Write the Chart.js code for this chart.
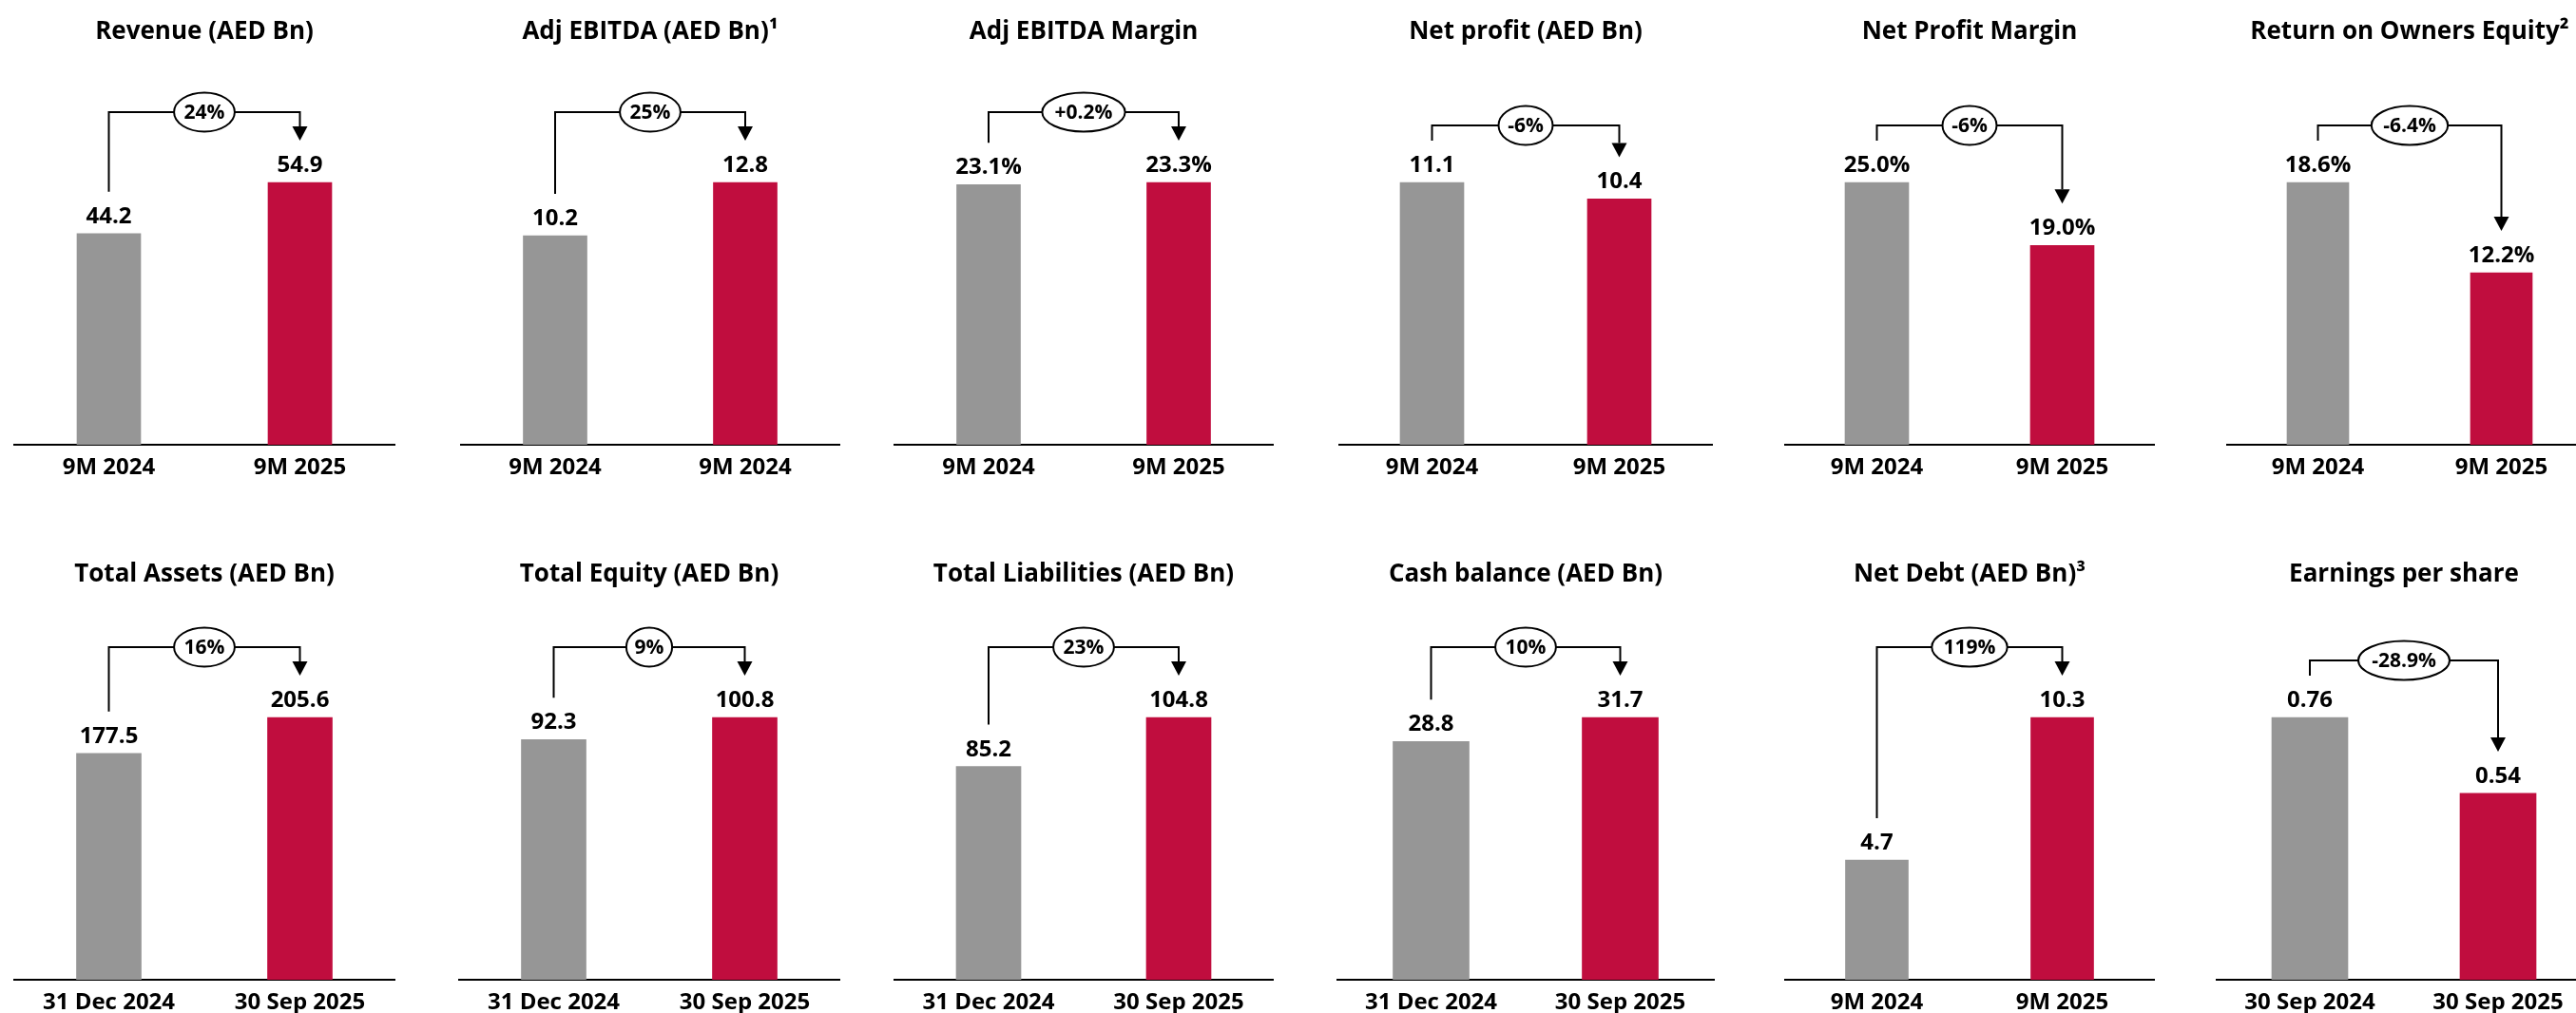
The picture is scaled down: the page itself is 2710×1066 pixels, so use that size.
<!DOCTYPE html>
<html>
<head>
<meta charset="utf-8">
<script src="https://cdn.jsdelivr.net/npm/chart.js@4.4.1/dist/chart.umd.min.js"></script>
<style>
  html, body { margin: 0; padding: 0; background: #fff; }
  body { width: 2710px; height: 1066px; position: relative; overflow: hidden; }
  .panel { position: absolute; }
</style>
</head>
<body>
<script>
// chart values, one entry per panel (row 1 then row 2)
const titles = [
  'Revenue (AED Bn)', 'Adj EBITDA (AED Bn)\u00B9', 'Adj EBITDA Margin',
  'Net profit (AED Bn)', 'Net Profit Margin', 'Return on Owners Equity\u00B2',
  'Total Assets (AED Bn)', 'Total Equity (AED Bn)', 'Total Liabilities (AED Bn)',
  'Cash balance (AED Bn)', 'Net Debt (AED Bn)\u00B3', 'Earnings per share'
];
const periods = [
  ['9M 2024', '9M 2025'], ['9M 2024', '9M 2024'], ['9M 2024', '9M 2025'],
  ['9M 2024', '9M 2025'], ['9M 2024', '9M 2025'], ['9M 2024', '9M 2025'],
  ['31 Dec 2024', '30 Sep 2025'], ['31 Dec 2024', '30 Sep 2025'], ['31 Dec 2024', '30 Sep 2025'],
  ['31 Dec 2024', '30 Sep 2025'], ['9M 2024', '9M 2025'], ['30 Sep 2024', '30 Sep 2025']
];
const priorValues = [44.2, 10.2, 23.1, 11.1, 25.0, 18.6, 177.5, 92.3, 85.2, 28.8, 4.7, 0.76];
const currentValues = [54.9, 12.8, 23.3, 10.4, 19.0, 12.2, 205.6, 100.8, 104.8, 31.7, 10.3, 0.54];
const changeLabels = ['24%', '25%', '+0.2%', '-6%', '-6%', '-6.4%', '16%', '9%', '23%', '10%', '119%', '-28.9%'];
const valueSuffix = ['', '', '%', '', '%', '%', '', '', '', '', '', ''];
const valueDecimals = [1, 1, 1, 1, 1, 1, 1, 1, 1, 1, 1, 2];

// page layout
const panelLeft = [14, 484, 940, 1408, 1877, 2342, 14, 482, 940, 1406, 1877, 2331];
const panelWidth = [402, 400, 400, 394, 390, 386, 402, 402, 400, 398, 390, 396];
const barWidth = [67, 67, 67, 67, 67, 65, 68, 68, 68, 80, 66, 80];
const rowTop = [0, 563];
const titlePadTop = [18, 26];
const canvasHeight = 528;
const plotHeight = 378;   // chart area height (title block 90, x axis 60)
const tallestBar = 276;   // pixel height of the larger bar in every panel

const GREY = '#969696';
const RED = '#C00D3E';
const FONT = '"Open Sans", "DejaVu Sans", sans-serif';

const bracketPlugin = {
  id: 'changeBracket',
  afterDatasetsDraw(chart, args, opts) {
    const ctx = chart.ctx;
    const bars = chart.getDatasetMeta(0).data;
    const vals = chart.data.datasets[0].data;
    const g = bars[0], r = bars[1];

    ctx.save();
    ctx.fillStyle = '#000';
    ctx.strokeStyle = '#000';
    ctx.lineWidth = 2;
    ctx.textAlign = 'center';

    // value labels
    ctx.font = 'bold 24px ' + FONT;
    ctx.textBaseline = 'alphabetic';
    bars.forEach((b, i) => {
      ctx.fillText(vals[i].toFixed(opts.decimals) + opts.suffix, b.x, b.y - 11);
    });

    // bracket from first bar to second bar
    const up = vals[1] >= vals[0];
    const level = Math.min(g.y, r.y) - (up ? 74 : 60);
    const startY = g.y - 44;
    const tipY = r.y - 44;
    const headH = 15, headW = 8;

    ctx.font = 'bold 21px ' + FONT;
    const tw = ctx.measureText(opts.change).width;
    const rx = (tw * 1.3 + 8) / 2, ry = 20.5;
    const midX = (g.x + r.x) / 2;

    ctx.lineJoin = 'miter';
    ctx.beginPath();
    ctx.moveTo(g.x, startY);
    ctx.lineTo(g.x, level);
    ctx.lineTo(midX - rx, level);
    ctx.moveTo(midX + rx, level);
    ctx.lineTo(r.x, level);
    ctx.lineTo(r.x, tipY - headH);
    ctx.stroke();

    ctx.beginPath();
    ctx.moveTo(r.x - headW, tipY - headH);
    ctx.lineTo(r.x + headW, tipY - headH);
    ctx.lineTo(r.x, tipY);
    ctx.closePath();
    ctx.fill();

    ctx.beginPath();
    ctx.ellipse(midX, level, rx, ry, 0, 0, Math.PI * 2);
    ctx.fillStyle = '#fff';
    ctx.fill();
    ctx.stroke();

    ctx.fillStyle = '#000';
    ctx.textBaseline = 'middle';
    ctx.fillText(opts.change, midX, level + 1);
    ctx.restore();
  }
};

titles.forEach((title, i) => {
  const row = i < 6 ? 0 : 1;
  const box = document.createElement('div');
  box.className = 'panel';
  box.style.left = panelLeft[i] + 'px';
  box.style.top = rowTop[row] + 'px';
  const canvas = document.createElement('canvas');
  canvas.width = panelWidth[i];
  canvas.height = canvasHeight;
  box.appendChild(canvas);
  document.body.appendChild(box);

  const values = [priorValues[i], currentValues[i]];
  const maxVal = Math.max(...values);

  new Chart(canvas, {
    type: 'bar',
    data: {
      labels: periods[i],
      datasets: [{
        data: values,
        backgroundColor: [GREY, RED],
        barThickness: barWidth[i]
      }]
    },
    options: {
      responsive: false,
      animation: false,
      layout: { padding: 0 },
      plugins: {
        legend: { display: false },
        tooltip: { enabled: false },
        title: {
          display: true,
          text: title,
          color: '#000',
          font: { family: FONT, size: 26, weight: 'bold', lineHeight: 1.2 },
          padding: { top: titlePadTop[row], bottom: 58.8 - titlePadTop[row] }
        },
        changeBracket: {
          change: changeLabels[i],
          suffix: valueSuffix[i],
          decimals: valueDecimals[i]
        }
      },
      scales: {
        x: {
          grid: { display: false, drawTicks: false },
          border: { display: true, color: '#000', width: 2 },
          ticks: {
            color: '#000',
            padding: 10,
            autoSkip: false,
            maxRotation: 0,
            font: { family: FONT, size: 24, weight: 'bold' }
          },
          afterFit: (scale) => { scale.height = 60; }
        },
        y: {
          display: false,
          min: 0,
          max: maxVal * plotHeight / tallestBar
        }
      }
    },
    plugins: [bracketPlugin]
  });
});
</script>
</body>
</html>
